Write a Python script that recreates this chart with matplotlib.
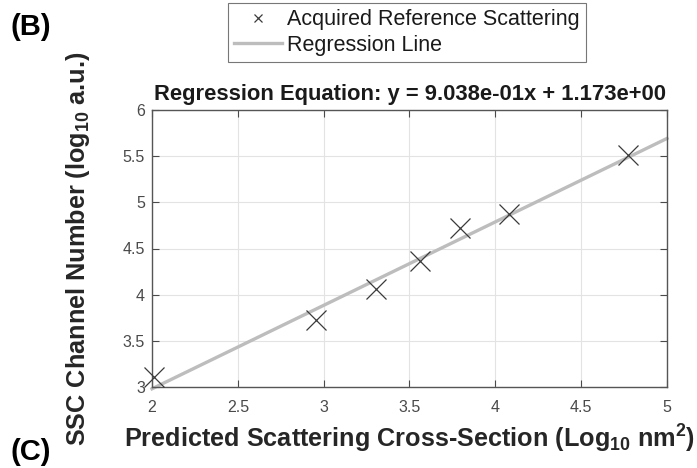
import matplotlib
matplotlib.use("Agg")
import matplotlib.pyplot as plt

plt.rcParams['font.family'] = ['Liberation Sans', 'DejaVu Sans']
plt.rcParams['mathtext.fontset'] = 'custom'
plt.rcParams['mathtext.bf'] = 'Liberation Sans:bold'
plt.rcParams['mathtext.rm'] = 'Liberation Sans'

# Dados
x_pred = [2.013, 2.953, 3.304, 3.563, 3.796, 4.080, 4.774]
y_ssc = [3.109, 3.725, 4.062, 4.370, 4.721, 4.877, 5.518]
slope = 0.9038
intercept = 1.173
x_line = [2.0, 5.0]
x_ticks = [2, 2.5, 3, 3.5, 4, 4.5, 5]
y_ticks = [3, 3.5, 4, 4.5, 5, 5.5, 6]

fig = plt.figure(figsize=(6.97, 4.68), dpi=100)
ax = fig.add_axes([152 / 697, 1 - 387 / 468, 515 / 697, 277 / 468])

# Linha de regressão
y_line = [slope * v + intercept for v in x_line]
ax.plot(x_line, y_line, color='#bdbdbd', linewidth=2.4, label='Regression Line',
        zorder=2, clip_on=False)
# Pontos medidos
ax.plot(x_pred, y_ssc, linestyle='none', marker='x', markersize=14, markeredgewidth=0.9,
        color='#3a3a3a', label='Acquired Reference Scattering', zorder=3, clip_on=False)

ax.set_xlim(2, 5)
ax.set_ylim(3, 6)
ax.set_xticks(x_ticks)
ax.set_xticklabels(['2', '2.5', '3', '3.5', '4', '4.5', '5'])
ax.set_yticks(y_ticks)
ax.set_yticklabels(['3', '3.5', '4', '4.5', '5', '5.5', '6'])
ax.tick_params(direction='in', top=True, right=True, labelsize=11.5, colors='#4a4a4a',
               length=5, width=0.8)
ax.tick_params(axis='x', pad=9)
ax.tick_params(axis='y', pad=5)
ax.grid(True, color='#e3e3e3', linewidth=0.8)
for s in ax.spines.values():
    s.set_color('#555555')
    s.set_linewidth(1.0)

ax.set_title('Regression Equation: y = 9.038e-01x + 1.173e+00', fontsize=15.8,
             fontweight='bold', color='#1a1a1a', pad=7)
ax.set_xlabel(r'Predicted Scattering Cross-Section (Log$_{\mathbf{10}}$ nm$^{\mathbf{2}}$)',
              fontsize=18.2, fontweight='bold', color='#262626', labelpad=6)
ax.set_ylabel(r'SSC Channel Number (log$_{\mathbf{10}}$ a.u.)', fontsize=18.2,
              fontweight='bold', color='#262626')
ax.yaxis.set_label_coords(-0.117, 0.5)

# Legenda acima do gráfico (ordem: pontos, linha)
handles, labels = ax.get_legend_handles_labels()
leg = fig.legend([handles[1], handles[0]], [labels[1], labels[0]],
                 loc='upper left', bbox_to_anchor=(228 / 697, 1 - 3 / 468), borderaxespad=0,
                 fontsize=15.5, frameon=True, fancybox=False, edgecolor='#555555',
                 markerscale=0.45, handlelength=2.2, handletextpad=0.25, borderpad=0.3,
                 labelspacing=0.2)
leg.get_frame().set_linewidth(0.8)
for t in leg.get_texts():
    t.set_color('#1a1a1a')

fig.text(11 / 697, 1 - 27 / 468, '(B)', fontsize=21, fontweight='bold', va='center')
fig.text(11 / 697, 1 - 452 / 468, '(C)', fontsize=21, fontweight='bold', va='center')

fig.savefig('out.png', dpi=100)
